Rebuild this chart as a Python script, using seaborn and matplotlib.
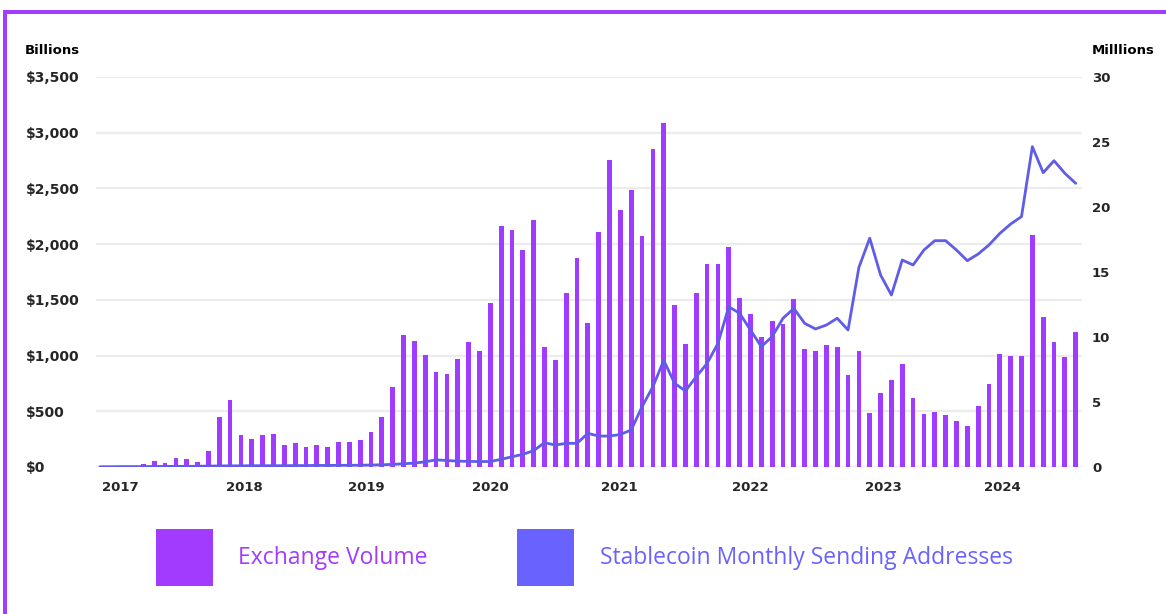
import matplotlib
matplotlib.use("Agg")
import matplotlib.pyplot as plt
from matplotlib.patches import Rectangle
import seaborn as sns
import numpy as np
import pandas as pd

# ---------------- data ----------------
months = pd.date_range("2017-01-01", periods=91, freq="MS")

exchange_volume_bn = [
    3, 5, 10, 12, 30, 55, 38, 78, 68, 48, 142, 450,
    605, 290, 247, 286, 297, 194, 214, 180, 199, 179, 221, 224,
    240, 311, 453, 721, 1185, 1134, 1005, 850, 832, 966, 1125, 1044,
    1475, 2166, 2127, 1947, 2217, 1074, 960, 1564, 1876, 1289, 2112, 2755,
    2306, 2486, 2076, 2854, 3090, 1454, 1101, 1559, 1819, 1819, 1977, 1520,
    1373, 1170, 1310, 1283, 1505, 1056, 1044, 1092, 1074, 826, 1044, 488,
    667, 781, 924, 616, 476, 497, 467, 413, 368, 547, 742, 1010,
    995, 995, 2080, 1350, 1120, 990, 1210,
]

stablecoin_addresses_mn = [
    0.02, 0.02, 0.03, 0.03, 0.03, 0.04, 0.04, 0.05, 0.05, 0.06, 0.07, 0.08,
    0.09, 0.09, 0.10, 0.10, 0.10, 0.10, 0.11, 0.11, 0.12, 0.12, 0.13, 0.13,
    0.14, 0.15, 0.17, 0.20, 0.25, 0.30, 0.40, 0.55, 0.50, 0.45, 0.43, 0.42,
    0.42, 0.59, 0.79, 0.97, 1.26, 1.87, 1.69, 1.82, 1.82, 2.59, 2.38, 2.38,
    2.50, 2.85, 4.64, 6.18, 8.20, 6.44, 5.85, 6.95, 7.97, 9.51, 12.33, 11.82,
    10.54, 9.26, 10.03, 11.44, 12.20, 11.05, 10.62, 10.92, 11.44, 10.54, 15.35, 17.60,
    14.77, 13.23, 15.92, 15.54, 16.69, 17.41, 17.41, 16.69, 15.87, 16.38, 17.08, 17.97,
    18.69, 19.26, 24.64, 22.64, 23.56, 22.59, 21.82,
]

year_labels = ["2017", "2018", "2019", "2020", "2021", "2022", "2023", "2024"]
left_ticks = [0, 500, 1000, 1500, 2000, 2500, 3000, 3500]
left_tick_labels = ["$0", "$500", "$1,000", "$1,500", "$2,000", "$2,500", "$3,000", "$3,500"]
right_ticks = [0, 5, 10, 15, 20, 25, 30]

series_names = ["Exchange Volume", "Stablecoin Monthly Sending Addresses"]

# ---------------- style ----------------
BAR_COLOR = "#a03cff"
LINE_COLOR = "#5f5ce8"
LEG_BAR = "#a33bff"
LEG_LINE = "#6962ff"
GRID = "#ececec"

sns.set_theme(style="white")
plt.rcParams["font.family"] = ["DejaVu Sans"]

W, H = 1166, 614
fig = plt.figure(figsize=(W / 100, H / 100), dpi=100)
fig.patch.set_facecolor("white")

def fx(px):
    return px / W

def fy(py):
    return 1 - py / H

ax = fig.add_axes([fx(96), fy(467), fx(1082) - fx(96), fy(77) - fy(467)])

df = pd.DataFrame({
    "month": months,
    "pos": np.arange(len(months)),
    "volume": exchange_volume_bn,
    "addresses": stablecoin_addresses_mn,
})

sns.barplot(data=df, x="pos", y="volume", ax=ax, color=BAR_COLOR,
            saturation=1, width=0.44, edgecolor="none", zorder=2)

ax.set_ylim(0, 3500)
ax.set_yticks(left_ticks)
ax.set_yticklabels(left_tick_labels)
ax.yaxis.grid(True, color=GRID, linewidth=1.6, zorder=0)
ax.set_axisbelow(True)
for s in ax.spines.values():
    s.set_visible(False)
ax.tick_params(axis="y", length=0, pad=50.4, labelsize=10)
for t in ax.get_yticklabels():
    t.set_horizontalalignment("left")
    t.set_fontweight("bold")

# year ticks (layout positions, in bar-index units)
year_tick_pos = [1.84, 13.3, 24.6, 36.0, 47.9, 60.0, 72.3, 83.2]
ax.set_xticks(year_tick_pos)
ax.set_xticklabels(year_labels, fontweight="bold")
ax.tick_params(axis="x", length=0, pad=10, labelsize=9.5)
ax.set_xlim(-0.37, 90.58)
ax.set_xlabel("")
ax.set_ylabel("")

ax2 = ax.twinx()
sns.lineplot(data=df, x="pos", y="addresses", ax=ax2, color=LINE_COLOR,
             linewidth=2.0, zorder=3)
ax2.set_ylim(0, 30)
ax2.set_yticks(right_ticks)
ax2.set_yticklabels([str(v) for v in right_ticks], fontweight="bold")
ax2.tick_params(axis="y", length=0, pad=7.2, labelsize=9.5)
ax2.set_xlim(-0.37, 90.58)
ax2.set_ylabel("")
ax2.set_xlabel("")
ax2.grid(False)
for s in ax2.spines.values():
    s.set_visible(False)

# axis unit labels
fig.text(fx(25), fy(50), "Billions", ha="left", va="center",
         fontsize=9.5, fontweight="bold", color="black")
fig.text(fx(1092), fy(50), "Milllions", ha="left", va="center",
         fontsize=9.5, fontweight="bold", color="black")

# legend (drawn manually: big square swatches + coloured labels)
legend_swatch_x = [156, 517]
legend_text_x = [238, 600]
for name, col, sx, tx in zip(series_names, [LEG_BAR, LEG_LINE],
                             legend_swatch_x, legend_text_x):
    fig.add_artist(Rectangle((fx(sx), fy(586)), fx(57), fy(529) - fy(586),
                             transform=fig.transFigure, facecolor=col,
                             edgecolor="none"))
    fig.text(fx(tx), fy(558), name, ha="left", va="center", color=col,
             fontsize=16.5, family="Open Sans")

# purple frame (top and left)
fig.add_artist(Rectangle((fx(3), fy(14)), 1 - fx(3), fy(10) - fy(14),
                         transform=fig.transFigure, facecolor="#a43cff",
                         edgecolor="none"))
fig.add_artist(Rectangle((fx(3), 0), fx(7) - fx(3), fy(10),
                         transform=fig.transFigure, facecolor="#a43cff",
                         edgecolor="none"))

fig.savefig("out.png", dpi=100)
